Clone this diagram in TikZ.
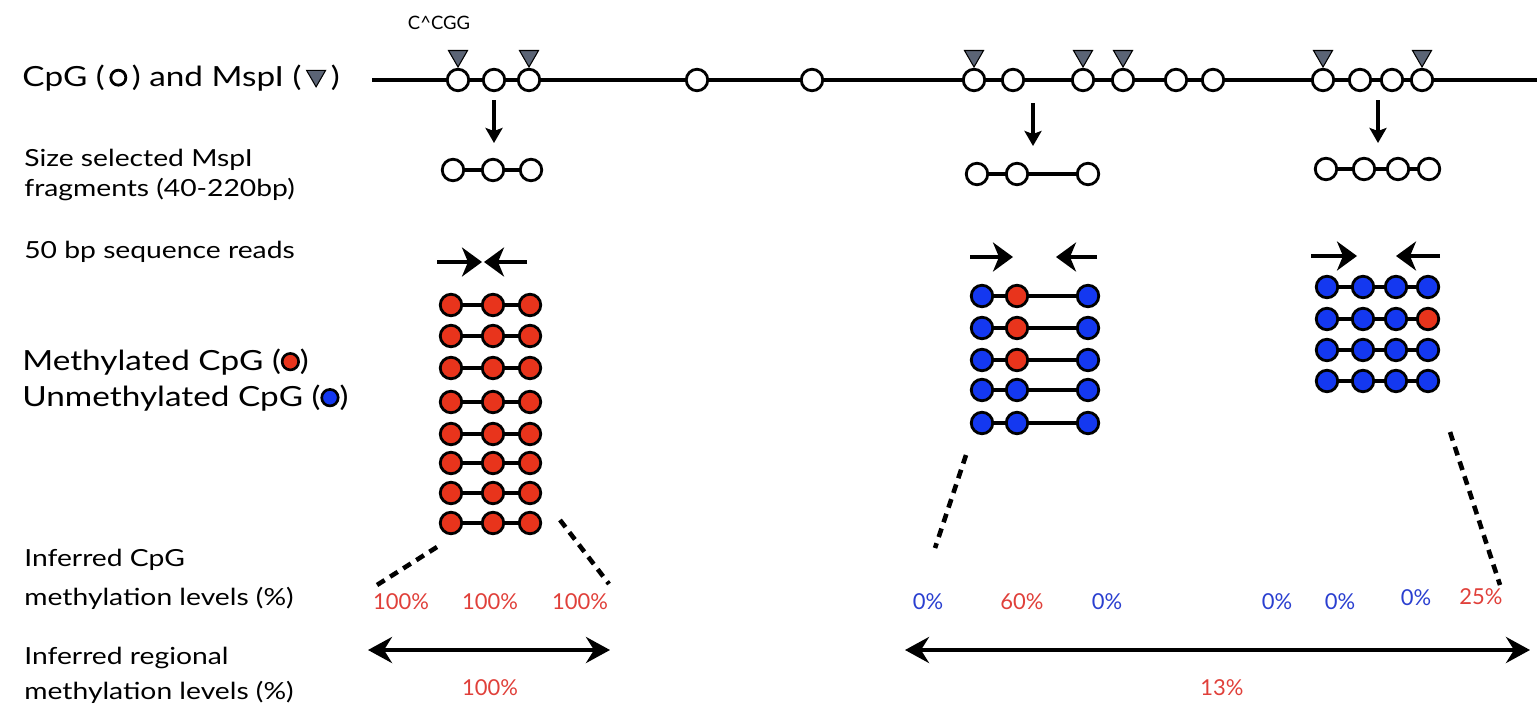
\documentclass[tikz,border=0pt]{standalone}
\usepackage{fontspec}
\setmainfont{Lato}
\newfontfamily\lblfont{Lato}[FakeStretch=1.2]
\usetikzlibrary{shapes.geometric,arrows.meta,calc}
\definecolor{meRed}{HTML}{E8341C}
\definecolor{unBlue}{HTML}{1438F0}
\definecolor{txtRed}{HTML}{E0403A}
\definecolor{txtBlue}{HTML}{2A3FD0}
\definecolor{cutGrey}{HTML}{5B6475}
% inline legend glyphs
\newcommand{\cpgsym}{\,\tikz[baseline=-0.62ex]\node[circle,draw=black,line width=1.6pt,fill=white,minimum size=0.3cm,inner sep=0pt]{};\,}
\newcommand{\cutsym}{\,\tikz[baseline=-0.75ex]\node[regular polygon,regular polygon sides=3,shape border rotate=180,draw=black,line width=0.6pt,fill=cutGrey,minimum size=0.44cm,inner sep=0pt]{};\,}
\newcommand{\mesym}{\tikz[baseline=-0.62ex]\node[circle,draw=black,line width=1.5pt,fill=meRed,minimum size=0.33cm,inner sep=0pt]{};}
\newcommand{\unsym}{\tikz[baseline=-0.62ex]\node[circle,draw=black,line width=1.5pt,fill=unBlue,minimum size=0.33cm,inner sep=0pt]{};}
\begin{document}
\begin{tikzpicture}[x=0.02cm,y=-0.02cm,
  site/.style={circle,draw=black,line width=1.6pt,fill=white,minimum size=0.43cm,inner sep=0pt},
  me/.style={site,fill=meRed},
  un/.style={site,fill=unBlue},
  cut/.style={regular polygon,regular polygon sides=3,shape border rotate=180,draw=black,line width=0.6pt,fill=cutGrey,minimum size=0.44cm,inner sep=0pt},
  strand/.style={line width=2.3pt},
  lbl/.style={anchor=west,inner sep=0pt,font=\lblfont\fontsize{13.4}{16}\selectfont},
  biglbl/.style={anchor=west,inner sep=0pt,font=\lblfont\fontsize{15.8}{19}\selectfont},
  pct/.style={inner sep=0pt,font=\fontsize{12.5}{15}\selectfont},
  down/.style={-{Stealth[length=0.3cm,width=0.34cm,inset=0.06cm]},line width=2pt},
  readarr/.style={-{Stealth[length=0.4cm,width=0.58cm,inset=0.12cm]},line width=2.8pt},
  span/.style={{Stealth[length=0.48cm,width=0.52cm,inset=0.16cm]}-{Stealth[length=0.48cm,width=0.52cm,inset=0.16cm]},line width=2.8pt},
  guide/.style={dash pattern=on 0.18cm off 0.13cm,line width=2.6pt}]
\useasboundingbox (0,0) rectangle (1537,710);

% ---- labels on the left ----
\node[biglbl] (lCpG) at (22,78) {CpG (\cpgsym) and MspI (\cutsym)};
\node[lbl] (lSize1) at (24,160) {Size selected MspI};
\node[lbl] (lSize2) at (24,190) {fragments (40-220bp)};
\node[lbl] (lReads) at (24,252) {50 bp sequence reads};
\node[biglbl] (lMe) at (22,362) {Methylated CpG (\mesym)};
\node[biglbl] (lUn) at (22,398) {Unmethylated CpG (\unsym)};
\node[lbl] (lInf1) at (24,560) {Inferred CpG};
\node[lbl] (lInf2) at (24,598) {methylation levels (\%)};
\node[lbl] (lReg1) at (24,658) {Inferred regional};
\node[lbl] (lReg2) at (24,692) {methylation levels (\%)};

% ---- genomic strand with CpG sites and MspI cuts ----
\coordinate (gL) at (372,80);
\coordinate (gR) at (1537,80);
\draw[strand] (gL) -- (gR);
\foreach \x [count=\i] in {458,494,529,697,812,974,1013,1083,1123,1176,1213,1323,1360,1392,1422}
  \node[site] (s\i) at (\x,80) {};
\foreach \i in {1,3,6,8,9,12,15}
  \node[cut] (t\i) at ($(s\i)+(0,-24)$) {};
\node[inner sep=0pt,font=\fontsize{10.5}{12}\selectfont] (enz) at (439,23) {C\textasciicircum CGG};

% ---- size-selected fragments ----
\coordinate (d1a) at (494,100); \coordinate (d1b) at (494,143);
\coordinate (d2a) at (1033,103); \coordinate (d2b) at (1033,146);
\coordinate (d3a) at (1378,100); \coordinate (d3b) at (1378,143);
\draw[down] (d1a) -- (d1b);
\draw[down] (d2a) -- (d2b);
\draw[down] (d3a) -- (d3b);

\node[site] (f1a) at (453,170) {}; \node[site] (f1b) at (493,170) {}; \node[site] (f1c) at (531,170) {};
\draw[strand] (f1a) -- (f1b) (f1b) -- (f1c);
\node[site] (f2a) at (977,174) {}; \node[site] (f2b) at (1017,174) {}; \node[site] (f2c) at (1088,174) {};
\draw[strand] (f2a) -- (f2b) (f2b) -- (f2c);
\node[site] (f3a) at (1326,169) {}; \node[site] (f3b) at (1364,169) {}; \node[site] (f3c) at (1398,169) {}; \node[site] (f3d) at (1429,169) {};
\draw[strand] (f3a) -- (f3b) (f3b) -- (f3c) (f3c) -- (f3d);

% ---- paired read arrows ----
\coordinate (r1a) at (437,262); \coordinate (r1b) at (482,262);
\coordinate (r1c) at (527,262); \coordinate (r1d) at (484,262);
\draw[readarr] (r1a) -- (r1b); \draw[readarr] (r1c) -- (r1d);
\coordinate (r2a) at (970,257); \coordinate (r2b) at (1013,257);
\coordinate (r2c) at (1097,257); \coordinate (r2d) at (1056,257);
\draw[readarr] (r2a) -- (r2b); \draw[readarr] (r2c) -- (r2d);
\coordinate (r3a) at (1311,256); \coordinate (r3b) at (1357,256);
\coordinate (r3c) at (1440,256); \coordinate (r3d) at (1396,256);
\draw[readarr] (r3a) -- (r3b); \draw[readarr] (r3c) -- (r3d);

% ---- bisulfite reads: region 1 (all methylated) ----
\foreach \y [count=\r] in {305,336,368,402,434,463,493,523} {
  \node[me] (a\r x1) at (451,\y) {};
  \node[me] (a\r x2) at (493,\y) {};
  \node[me] (a\r x3) at (530,\y) {};
  \draw[strand] (a\r x1) -- (a\r x2) (a\r x2) -- (a\r x3);
}

% ---- region 2 ----
\foreach \y/\c [count=\r] in {296/me,328/me,360/me,390/un,423/un} {
  \node[un] (b\r x1) at (982,\y) {};
  \node[\c] (b\r x2) at (1017,\y) {};
  \node[un] (b\r x3) at (1088,\y) {};
  \draw[strand] (b\r x1) -- (b\r x2) (b\r x2) -- (b\r x3);
}

% ---- region 3 ----
\foreach \y/\c [count=\r] in {287/un,319/me,350/un,381/un} {
  \node[un] (c\r x1) at (1327,\y) {};
  \node[un] (c\r x2) at (1363,\y) {};
  \node[un] (c\r x3) at (1396,\y) {};
  \node[\c] (c\r x4) at (1428,\y) {};
  \draw[strand] (c\r x1) -- (c\r x2) (c\r x2) -- (c\r x3) (c\r x3) -- (c\r x4);
}

% ---- dashed guides ----
\coordinate (g1a) at (437,547); \coordinate (g1b) at (377,585);
\coordinate (g1c) at (560,520); \coordinate (g1d) at (609,584);
\coordinate (g2a) at (966,455); \coordinate (g2b) at (935,548);
\coordinate (g3a) at (1450,432); \coordinate (g3b) at (1500,585);
\draw[guide] (g1a) -- (g1b);
\draw[guide] (g1c) -- (g1d);
\draw[guide] (g2a) -- (g2b);
\draw[guide] (g3a) -- (g3b);

% ---- per-CpG levels ----
\node[pct,text=txtRed] (p1) at (401,602) {100\%};
\node[pct,text=txtRed] (p2) at (490,602) {100\%};
\node[pct,text=txtRed] (p3) at (580,602) {100\%};
\node[pct,text=txtBlue] (p4) at (928,602) {0\%};
\node[pct,text=txtRed] (p5) at (1022,602) {60\%};
\node[pct,text=txtBlue] (p6) at (1107,602) {0\%};
\node[pct,text=txtBlue] (p7) at (1277,602) {0\%};
\node[pct,text=txtBlue] (p8) at (1340,602) {0\%};
\node[pct,text=txtBlue] (p9) at (1416,598) {0\%};
\node[pct,text=txtRed] (p10) at (1481,597) {25\%};

% ---- regional levels ----
\coordinate (h1a) at (368,650); \coordinate (h1b) at (610,650);
\coordinate (h2a) at (905,650); \coordinate (h2b) at (1530,650);
\draw[span] (h1a) -- (h1b);
\draw[span] (h2a) -- (h2b);
\node[pct,text=txtRed] (q1) at (490,688) {100\%};
\node[pct,text=txtRed] (q2) at (1222,688) {13\%};
\end{tikzpicture}
\end{document}
